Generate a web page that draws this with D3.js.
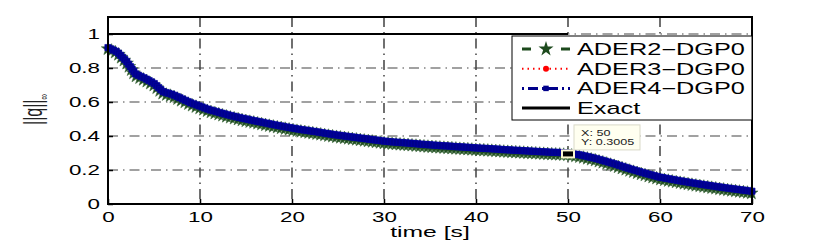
<!DOCTYPE html>
<html>
<head>
<meta charset="utf-8">
<script src="https://cdn.jsdelivr.net/npm/d3@7"></script>
<style>
  body { margin: 0; background: #fff; }
  text { font-family: "Liberation Sans", Arial, sans-serif; }
</style>
</head>
<body>
<div id="chart"></div>
<script>
const MARGIN = { TOP: 17, RIGHT: 78, BOTTOM: 38, LEFT: 108 };
const WIDTH = 830;
const HEIGHT = 242;
const STRETCH = 1.6; // the figure was stretched sideways, text too

// data, one value per second
const timeSteps = d3.range(0, 71, 1);
const ader2 = [0.912, 0.887, 0.83, 0.753, 0.728, 0.698, 0.648, 0.633, 0.608, 0.583,
  0.563, 0.543, 0.528, 0.513, 0.5, 0.488, 0.477, 0.466, 0.455, 0.445,
  0.435, 0.426, 0.418, 0.41, 0.401, 0.393, 0.386, 0.379, 0.372, 0.365,
  0.358, 0.353, 0.349, 0.345, 0.34, 0.336, 0.332, 0.329, 0.325, 0.322,
  0.318, 0.315, 0.312, 0.308, 0.305, 0.302, 0.299, 0.296, 0.293, 0.291,
  0.2885, 0.28, 0.269, 0.256, 0.241, 0.225, 0.208, 0.191, 0.175, 0.16,
  0.146, 0.136, 0.126, 0.117, 0.108, 0.1, 0.092, 0.084, 0.077, 0.07,
  0.063];
const ader3 = [0.916, 0.891, 0.836, 0.761, 0.736, 0.706, 0.656, 0.641, 0.616, 0.591,
  0.571, 0.551, 0.536, 0.521, 0.508, 0.496, 0.485, 0.474, 0.463, 0.453,
  0.443, 0.434, 0.426, 0.418, 0.409, 0.401, 0.394, 0.387, 0.38, 0.373,
  0.366, 0.361, 0.357, 0.353, 0.348, 0.344, 0.34, 0.337, 0.333, 0.33,
  0.326, 0.323, 0.32, 0.316, 0.313, 0.31, 0.307, 0.304, 0.301, 0.299,
  0.2965, 0.288, 0.277, 0.264, 0.249, 0.233, 0.216, 0.199, 0.183, 0.168,
  0.154, 0.144, 0.134, 0.125, 0.116, 0.108, 0.1, 0.092, 0.085, 0.078,
  0.071];
const ader4 = [0.92, 0.895, 0.84, 0.765, 0.74, 0.71, 0.66, 0.645, 0.62, 0.595,
  0.575, 0.555, 0.54, 0.525, 0.512, 0.5, 0.489, 0.478, 0.467, 0.457,
  0.447, 0.438, 0.43, 0.422, 0.413, 0.405, 0.398, 0.391, 0.384, 0.377,
  0.37, 0.365, 0.361, 0.357, 0.352, 0.348, 0.344, 0.341, 0.337, 0.334,
  0.33, 0.327, 0.324, 0.32, 0.317, 0.314, 0.311, 0.308, 0.305, 0.303,
  0.3005, 0.292, 0.281, 0.268, 0.253, 0.237, 0.22, 0.203, 0.187, 0.172,
  0.158, 0.148, 0.138, 0.129, 0.12, 0.112, 0.104, 0.096, 0.089, 0.082,
  0.075];
const exactTime = [0, 50];
const exactValues = [1, 1];

const xTicks = [0, 10, 20, 30, 40, 50, 60, 70];
const yTicks = [0, 0.2, 0.4, 0.6, 0.8, 1];
const yTickLabels = ["0", "0.2", "0.4", "0.6", "0.8", "1"];
const legendNames = ["ADER2\u2212DGP0", "ADER3\u2212DGP0", "ADER4\u2212DGP0", "Exact"];
const tipPoint = [50, 0.3005];

var svg = d3.select("div#chart").append("svg")
    .attr("width", WIDTH)
    .attr("height", HEIGHT)
    .style("display", "block");

var x = d3.scaleLinear([0, 70], [MARGIN.LEFT, WIDTH - MARGIN.RIGHT]);
var y = d3.scaleLinear([0, 1.1], [HEIGHT - MARGIN.BOTTOM, MARGIN.TOP]);

// grid (dash-dot)
var grid = svg.append("g")
    .attr("stroke-width", 1.2)
    .attr("stroke-dasharray", "10,5,1.5,5");
grid.selectAll("line.vx").data(xTicks.slice(1, -1)).join("line")
    .attr("class", "vx")
    .attr("stroke", "#111")
    .attr("x1", d => x(d)).attr("x2", d => x(d))
    .attr("y1", y.range()[1]).attr("y2", y.range()[0]);
grid.selectAll("line.hy").data(yTicks.slice(1)).join("line")
    .attr("class", "hy")
    .attr("stroke", "#444")
    .attr("x1", x.range()[0]).attr("x2", x.range()[1])
    .attr("y1", d => y(d)).attr("y2", d => y(d));

const lineFunc = d3.line()
    .x(d => x(d[0]))
    .y(d => y(d[1]));

// exact solution
svg.append("path")
    .attr("d", lineFunc(exactTime.map((t, i) => [t, exactValues[i]])))
    .attr("fill", "none")
    .attr("stroke", "black")
    .attr("stroke-width", 2.2);

const styles = [
  { values: ader2, color: "#1d4a1d", dash: "8,5", symbol: d3.symbolStar, size: 55, fill: "#1d4a1d", stroke: "#3d6a3d", step: 4 },
  { values: ader3, color: "#ff0000", dash: "1.5,3", symbol: d3.symbolCircle, size: 14, fill: "#ff0000", stroke: "none", step: 4 },
  { values: ader4, color: "#00008b", dash: "2,3,8,3", symbol: d3.symbolSquare, size: 40, fill: "#00008b", stroke: "#0000a8", step: 3 }
];

styles.forEach(s => {
  var pts = timeSteps.map((t, i) => [t, s.values[i]]);
  var path = svg.append("path")
      .attr("d", lineFunc(pts))
      .attr("fill", "none")
      .attr("stroke", s.color)
      .attr("stroke-width", 2)
      .attr("stroke-dasharray", s.dash);
  var node = path.node();
  var L = node.getTotalLength();
  var marks = d3.range(0, L + 0.1, s.step).map(l => node.getPointAtLength(l));
  svg.append("g").selectAll("path").data(marks).join("path")
      .attr("transform", p => `translate(${p.x},${p.y})`)
      .attr("d", d3.symbol(s.symbol, s.size)())
      .attr("fill", s.fill)
      .attr("stroke", s.stroke)
      .attr("stroke-width", 0.6);
});

// data tip
var tx = x(tipPoint[0]), ty = y(tipPoint[1]);
svg.append("rect")
    .attr("x", tx - 6).attr("y", ty - 2.5)
    .attr("width", 12).attr("height", 7)
    .attr("fill", "black")
    .attr("stroke", "#fbf7d0")
    .attr("stroke-width", 2);
svg.append("rect")
    .attr("x", tx + 6).attr("y", ty - 28)
    .attr("width", 66).attr("height", 25)
    .attr("fill", "#fffff0")
    .attr("stroke", "#d9d9c8");
svg.append("text")
    .attr("transform", `translate(${tx + 13},${ty - 17}) scale(1.4,1)`)
    .attr("font-size", 9).attr("fill", "#222")
    .text("X: " + tipPoint[0]);
svg.append("text")
    .attr("transform", `translate(${tx + 13},${ty - 8}) scale(1.4,1)`)
    .attr("font-size", 9).attr("fill", "#222")
    .text("Y: " + tipPoint[1]);

// axes
svg.append("g")
    .attr("transform", `translate(0,${y.range()[0]})`)
    .call(d3.axisBottom(x).tickValues(xTicks).tickSize(-5).tickPadding(8).tickFormat(d3.format("d")))
    .call(g => g.select(".domain").remove())
    .call(g => g.selectAll("line").attr("stroke", "black").attr("stroke-width", 1.5))
    .call(g => g.selectAll("text")
        .attr("font-size", 14)
        .attr("font-family", "Liberation Sans, Arial, sans-serif")
        .attr("fill", "black")
        .attr("transform", `scale(${STRETCH},1)`));

svg.append("g")
    .attr("transform", `translate(${x.range()[0]},0)`)
    .call(d3.axisLeft(y).tickValues(yTicks).tickSize(-5).tickFormat((d, i) => yTickLabels[i]))
    .call(g => g.select(".domain").remove())
    .call(g => g.selectAll("line").attr("stroke", "black").attr("stroke-width", 1.5))
    .call(g => g.selectAll("text")
        .attr("font-size", 14)
        .attr("font-family", "Liberation Sans, Arial, sans-serif")
        .attr("fill", "black")
        .attr("x", -8 / STRETCH)
        .attr("transform", `scale(${STRETCH},1)`));

// axes box
svg.append("rect")
    .attr("x", x.range()[0]).attr("y", y.range()[1])
    .attr("width", x.range()[1] - x.range()[0])
    .attr("height", y.range()[0] - y.range()[1])
    .attr("fill", "none")
    .attr("stroke", "black")
    .attr("stroke-width", 2);

// labels
svg.append("text")
    .attr("transform", `translate(${(x.range()[0] + x.range()[1]) / 2},237) scale(1.65,1)`)
    .attr("text-anchor", "middle")
    .attr("font-size", 15)
    .text("time [s]");

var yl = svg.append("text")
    .attr("transform", `translate(42,125) rotate(-90) scale(1,${STRETCH})`)
    .attr("font-size", 16)
    .attr("fill", "#222");
yl.append("tspan").text("||q||");
yl.append("tspan").attr("font-size", 8).attr("dy", 4).text("\u221e");

// legend
var legend = svg.append("g").attr("transform", "translate(512,36)");
legend.append("rect")
    .attr("width", 240).attr("height", 84)
    .attr("fill", "white")
    .attr("stroke", "black")
    .attr("stroke-width", 1);

const legendStyles = [
  { color: "#1d4a1d", dash: "9,30,9", width: 3, symbol: d3.symbolStar, size: 70, fill: "#1d4a1d" },
  { color: "#ff0000", dash: "1.5,4", width: 2, symbol: d3.symbolCircle, size: 28, fill: "#ff0000" },
  { color: "#00008b", dash: "2,4,10,4", width: 3, symbol: d3.symbolSquare, size: 30, fill: "#00008b" },
  { color: "black", dash: null, width: 3, symbol: null }
];

legendNames.forEach((name, i) => {
  var ly = 13 + i * 19.7;
  var st = legendStyles[i];
  legend.append("line")
      .attr("x1", 10).attr("x2", 58)
      .attr("y1", ly).attr("y2", ly)
      .attr("stroke", st.color)
      .attr("stroke-width", st.width)
      .attr("stroke-dasharray", st.dash);
  if (st.symbol) {
    legend.append("path")
        .attr("transform", `translate(34,${ly})`)
        .attr("d", d3.symbol(st.symbol, st.size)())
        .attr("fill", st.fill);
  }
  legend.append("text")
      .attr("transform", `translate(65,${ly + 6}) scale(1.58,1)`)
      .attr("font-size", 16)
      .text(name);
});
</script>
</body>
</html>
